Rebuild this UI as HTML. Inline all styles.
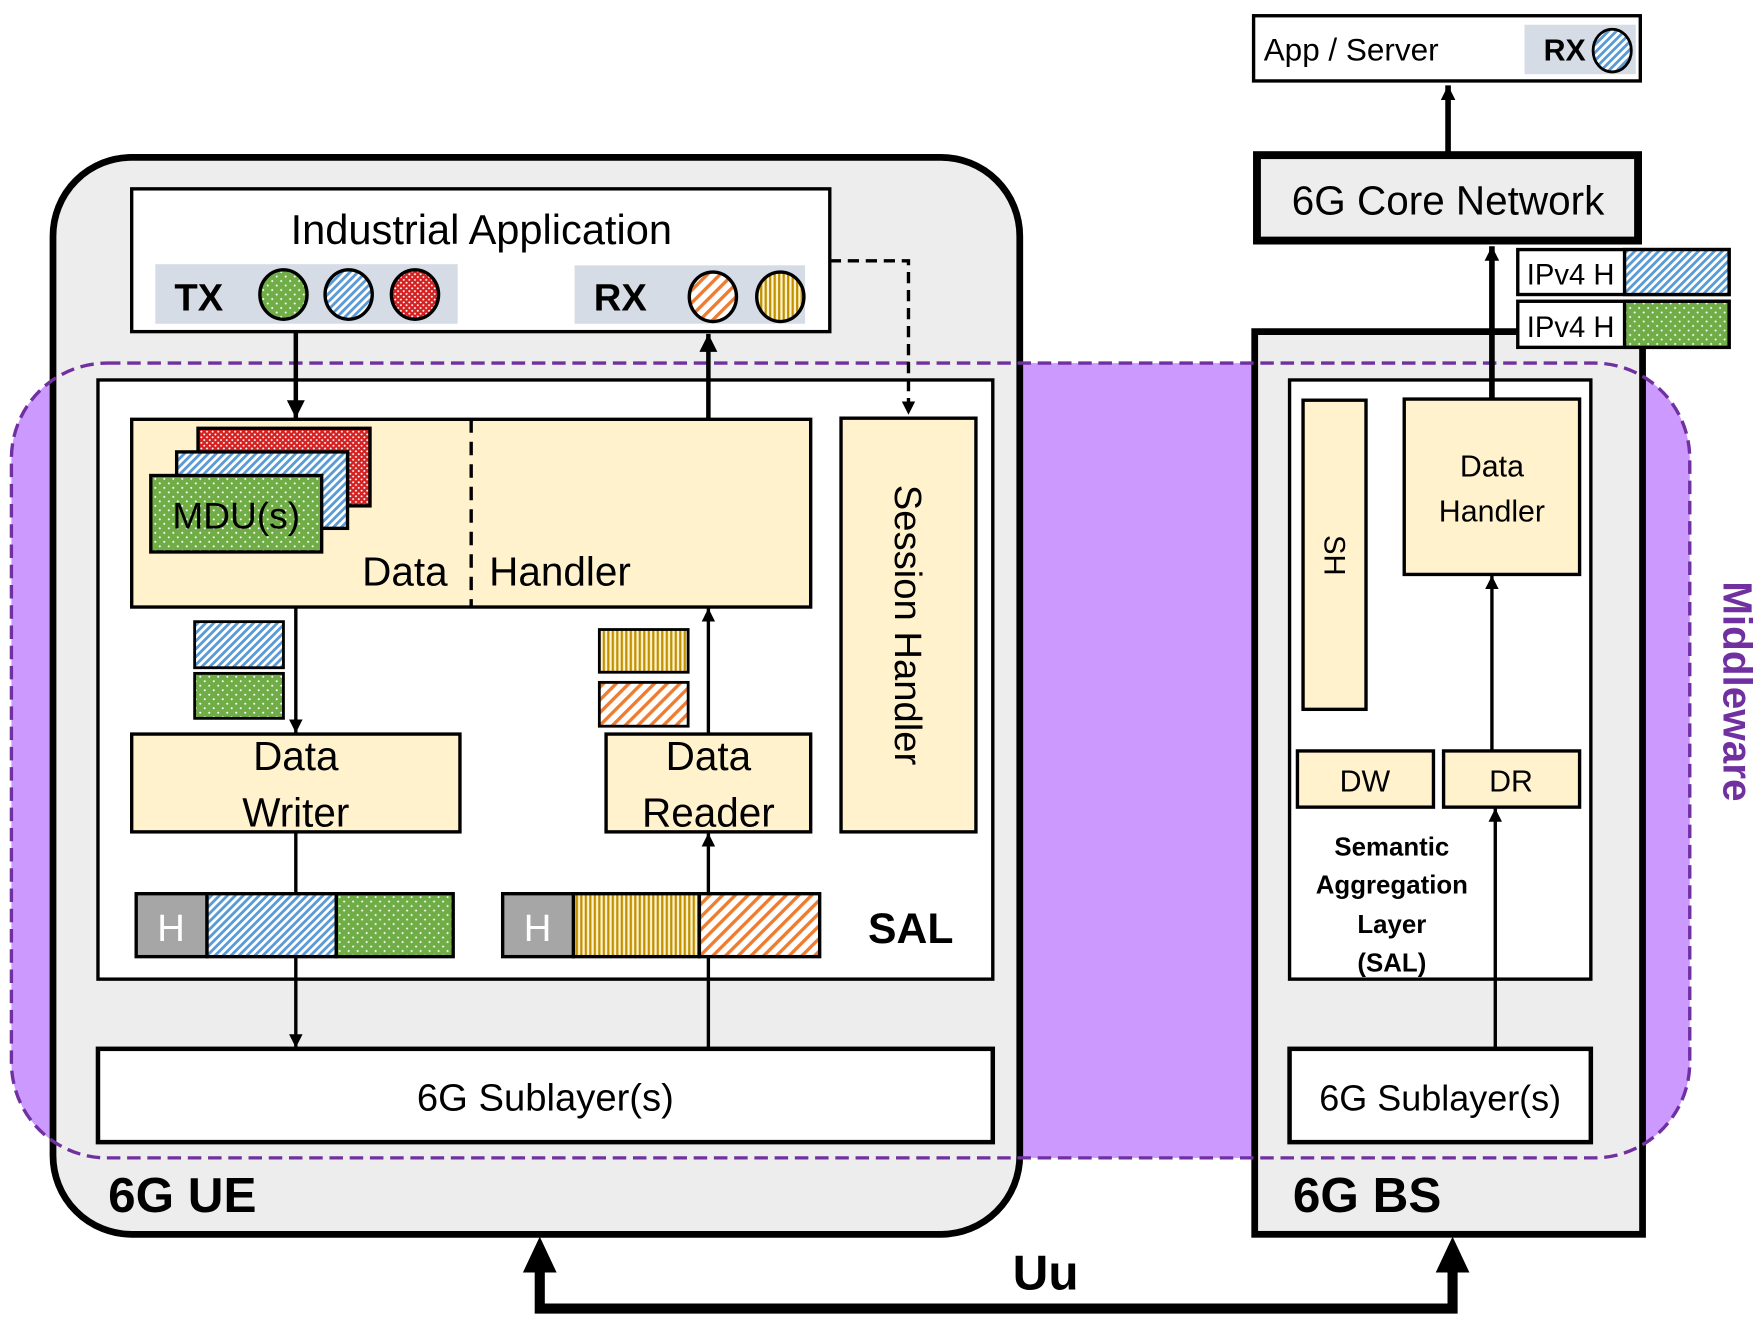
<!DOCTYPE html>
<html><head><meta charset="utf-8"><style>html,body{margin:0;padding:0;background:#fff}svg{display:block}text{font-family:"Liberation Sans",sans-serif}</style></head><body>
<svg width="1763" height="1322" viewBox="0 0 1568 1176" xmlns="http://www.w3.org/2000/svg">
<defs>
<pattern id="blue" width="5" height="5" patternUnits="userSpaceOnUse" patternTransform="rotate(45)"><rect width="5" height="5" fill="#fff"/><rect width="2.5" height="5" fill="#5b9bd5"/></pattern>
<pattern id="green" width="8" height="8" patternUnits="userSpaceOnUse"><rect width="8" height="8" fill="#70ad47"/><circle cx="2" cy="2" r="0.9" fill="#fff"/><circle cx="6" cy="6" r="0.9" fill="#fff"/></pattern>
<pattern id="red" width="5" height="5" patternUnits="userSpaceOnUse"><rect width="5" height="5" fill="#d42020"/><circle cx="1.5" cy="1.5" r="0.9" fill="#fff"/><circle cx="4" cy="4" r="0.9" fill="#fff"/></pattern>
<pattern id="orange" width="8" height="8" patternUnits="userSpaceOnUse" patternTransform="rotate(45)"><rect width="8" height="8" fill="#fff"/><rect width="3" height="8" fill="#ed7d31"/></pattern>
<pattern id="yellow" width="4" height="4" patternUnits="userSpaceOnUse"><rect width="4" height="4" fill="#fff2cc"/><rect width="2" height="4" fill="#bf9000"/></pattern>
<marker id="ar" viewBox="0 0 10 10" refX="10" refY="5" markerWidth="4" markerHeight="4" orient="auto"><path d="M0,0L10,5L0,10z" fill="#000"/></marker>
<marker id="ar2" viewBox="0 0 10 10" refX="10" refY="5" markerWidth="3.2" markerHeight="2.6" orient="auto"><path d="M0,0L10,5L0,10z" fill="#000"/></marker>
</defs>
<rect x="10" y="323" width="1493" height="707" rx="85" fill="#cc99ff"/>
<rect x="47" y="140" width="860" height="958" rx="70" fill="#ededed" stroke="#000" stroke-width="6"/>
<rect x="1116" y="295" width="345" height="803" fill="#ededed" stroke="#000" stroke-width="6"/>
<rect x="10" y="323" width="1493" height="707" rx="85" fill="none" stroke="#7030a0" stroke-width="3" stroke-dasharray="12,6"/>
<rect x="117" y="168" width="621" height="127" fill="#fff" stroke="#000" stroke-width="3"/>
<text x="428" y="217" font-size="37" text-anchor="middle">Industrial Application</text>
<rect x="138" y="235" width="269" height="53" fill="#d6dce5"/>
<text x="155" y="276" font-size="34" font-weight="bold">TX</text>
<ellipse cx="252" cy="262" rx="21" ry="22" fill="url(#green)" stroke="#000" stroke-width="3"/>
<ellipse cx="310" cy="262" rx="21" ry="22" fill="url(#blue)" stroke="#000" stroke-width="3"/>
<ellipse cx="369" cy="262" rx="21" ry="22" fill="url(#red)" stroke="#000" stroke-width="3"/>
<rect x="511" y="236" width="205" height="52" fill="#d6dce5"/>
<text x="528" y="276" font-size="34" font-weight="bold">RX</text>
<ellipse cx="634" cy="264" rx="21" ry="22" fill="url(#orange)" stroke="#000" stroke-width="3"/>
<ellipse cx="694" cy="264" rx="21" ry="22" fill="url(#yellow)" stroke="#000" stroke-width="3"/>
<rect x="87" y="338" width="796" height="533" fill="#fff" stroke="#000" stroke-width="3"/>
<path d="M738,232H808V369" fill="none" stroke="#000" stroke-width="3" stroke-dasharray="10,6" marker-end="url(#ar)"/>
<rect x="117" y="373" width="604" height="167" fill="#fff2cc" stroke="#000" stroke-width="3"/>
<line x1="419" y1="373" x2="419" y2="540" stroke="#000" stroke-width="3" stroke-dasharray="12,8"/>
<rect x="176" y="381" width="153" height="69" fill="url(#red)" stroke="#000" stroke-width="3"/>
<rect x="157" y="402" width="152" height="68" fill="url(#blue)" stroke="#000" stroke-width="3"/>
<rect x="134" y="423" width="152" height="68" fill="url(#green)" stroke="#000" stroke-width="3"/>
<text x="210" y="470" font-size="33" text-anchor="middle">MDU(s)</text>
<text x="360" y="521" font-size="36" text-anchor="middle">Data</text>
<text x="498" y="521" font-size="36" text-anchor="middle">Handler</text>
<rect x="748" y="372" width="120" height="368" fill="#fff2cc" stroke="#000" stroke-width="3"/>
<text transform="translate(796,556) rotate(90)" font-size="34" text-anchor="middle">Session Handler</text>
<line x1="263" y1="295" x2="263" y2="372" stroke="#000" stroke-width="4" marker-end="url(#ar)"/>
<line x1="630" y1="373" x2="630" y2="297" stroke="#000" stroke-width="4" marker-end="url(#ar)"/>
<rect x="117" y="653" width="292" height="87" fill="#fff2cc" stroke="#000" stroke-width="3"/>
<text x="263" y="685" font-size="36" text-anchor="middle">Data</text>
<text x="263" y="735" font-size="36" text-anchor="middle">Writer</text>
<rect x="539" y="653" width="182" height="87" fill="#fff2cc" stroke="#000" stroke-width="3"/>
<text x="630" y="685" font-size="36" text-anchor="middle">Data</text>
<text x="630" y="735" font-size="36" text-anchor="middle">Reader</text>
<rect x="173" y="553" width="79" height="41" fill="url(#blue)" stroke="#000" stroke-width="2.5"/>
<rect x="173" y="599" width="79" height="40" fill="url(#green)" stroke="#000" stroke-width="2.5"/>
<rect x="533" y="560" width="79" height="38" fill="url(#yellow)" stroke="#000" stroke-width="2.5"/>
<rect x="533" y="607" width="79" height="39" fill="url(#orange)" stroke="#000" stroke-width="2.5"/>
<line x1="263" y1="540" x2="263" y2="652" stroke="#000" stroke-width="3" marker-end="url(#ar)"/>
<line x1="630" y1="653" x2="630" y2="541" stroke="#000" stroke-width="3" marker-end="url(#ar)"/>
<line x1="263" y1="740" x2="263" y2="795" stroke="#000" stroke-width="3"/>
<line x1="630" y1="795" x2="630" y2="741" stroke="#000" stroke-width="3" marker-end="url(#ar)"/>
<rect x="121" y="795" width="63" height="56" fill="#a6a6a6" stroke="#000" stroke-width="3"/>
<text x="152" y="837" font-size="34" fill="#fff" text-anchor="middle">H</text>
<rect x="184" y="795" width="115" height="56" fill="url(#blue)" stroke="#000" stroke-width="3"/>
<rect x="299" y="795" width="104" height="56" fill="url(#green)" stroke="#000" stroke-width="3"/>
<rect x="447" y="795" width="63" height="56" fill="#a6a6a6" stroke="#000" stroke-width="3"/>
<text x="478" y="837" font-size="34" fill="#fff" text-anchor="middle">H</text>
<rect x="510" y="795" width="112" height="56" fill="url(#yellow)" stroke="#000" stroke-width="3"/>
<rect x="622" y="795" width="107" height="56" fill="url(#orange)" stroke="#000" stroke-width="3"/>
<text x="810" y="839" font-size="38" font-weight="bold" text-anchor="middle">SAL</text>
<line x1="263" y1="851" x2="263" y2="932" stroke="#000" stroke-width="3" marker-end="url(#ar)"/>
<line x1="630" y1="851" x2="630" y2="933" stroke="#000" stroke-width="3"/>
<rect x="87" y="933" width="796" height="83" fill="#fff" stroke="#000" stroke-width="4"/>
<text x="485" y="988" font-size="34" text-anchor="middle">6G Sublayer(s)</text>
<text x="96" y="1078" font-size="44" font-weight="bold">6G UE</text>
<rect x="1147" y="338" width="268" height="533" fill="#fff" stroke="#000" stroke-width="3"/>
<rect x="1159" y="356" width="56" height="275" fill="#fff2cc" stroke="#000" stroke-width="3"/>
<text transform="translate(1178,494) rotate(90)" font-size="26" text-anchor="middle">SH</text>
<rect x="1249" y="355" width="156" height="156" fill="#fff2cc" stroke="#000" stroke-width="3"/>
<text x="1327" y="424" font-size="27" text-anchor="middle">Data</text>
<text x="1327" y="464" font-size="27" text-anchor="middle">Handler</text>
<rect x="1154" y="668" width="121" height="50" fill="#fff2cc" stroke="#000" stroke-width="3"/>
<text x="1214" y="704" font-size="27" text-anchor="middle">DW</text>
<rect x="1284" y="668" width="121" height="50" fill="#fff2cc" stroke="#000" stroke-width="3"/>
<text x="1344" y="704" font-size="27" text-anchor="middle">DR</text>
<g font-size="23" font-weight="bold" text-anchor="middle">
<text x="1238" y="761">Semantic</text><text x="1238" y="795">Aggregation</text><text x="1238" y="830">Layer</text><text x="1238" y="864">(SAL)</text></g>
<line x1="1327" y1="668" x2="1327" y2="512" stroke="#000" stroke-width="3" marker-end="url(#ar)"/>
<line x1="1330" y1="933" x2="1330" y2="719" stroke="#000" stroke-width="3" marker-end="url(#ar)"/>
<rect x="1147" y="933" width="268" height="83" fill="#fff" stroke="#000" stroke-width="4"/>
<text x="1281" y="988" font-size="32" text-anchor="middle">6G Sublayer(s)</text>
<text x="1150" y="1078" font-size="44" font-weight="bold">6G BS</text>
<line x1="1327" y1="355" x2="1327" y2="219" stroke="#000" stroke-width="5" marker-end="url(#ar2)"/>
<rect x="1118" y="138" width="339" height="76" fill="#ededed" stroke="#000" stroke-width="7"/>
<text x="1288" y="191" font-size="36" text-anchor="middle">6G Core Network</text>
<line x1="1288" y1="135" x2="1288" y2="76" stroke="#000" stroke-width="5" marker-end="url(#ar2)"/>
<rect x="1115" y="14" width="344" height="58" fill="#fff" stroke="#000" stroke-width="3"/>
<text x="1124" y="54" font-size="28">App / Server</text>
<rect x="1356" y="22" width="99" height="44" fill="#d6dce5"/>
<text x="1373" y="54" font-size="27" font-weight="bold">RX</text>
<ellipse cx="1434" cy="45" rx="17" ry="19" fill="url(#blue)" stroke="#000" stroke-width="2.5"/>
<rect x="1350" y="222" width="188" height="40" fill="#fff" stroke="#000" stroke-width="3"/>
<rect x="1445" y="222" width="93" height="40" fill="url(#blue)" stroke="#000" stroke-width="3"/>
<text x="1397" y="253" font-size="26" text-anchor="middle">IPv4 H</text>
<rect x="1350" y="268" width="188" height="41" fill="#fff" stroke="#000" stroke-width="3"/>
<rect x="1445" y="268" width="93" height="41" fill="url(#green)" stroke="#000" stroke-width="3"/>
<text x="1397" y="300" font-size="26" text-anchor="middle">IPv4 H</text>
<text transform="translate(1533,615) rotate(90)" font-size="36" font-weight="bold" fill="#7030a0" text-anchor="middle">Middleware</text>
<path d="M480,1128V1164H1292V1128" fill="none" stroke="#000" stroke-width="9"/>
<path d="M480,1100L465,1132H495z M1292,1100L1277,1132H1307z" fill="#000"/>
<text x="930" y="1147" font-size="44" font-weight="bold" text-anchor="middle">Uu</text>
</svg>
</body></html>
